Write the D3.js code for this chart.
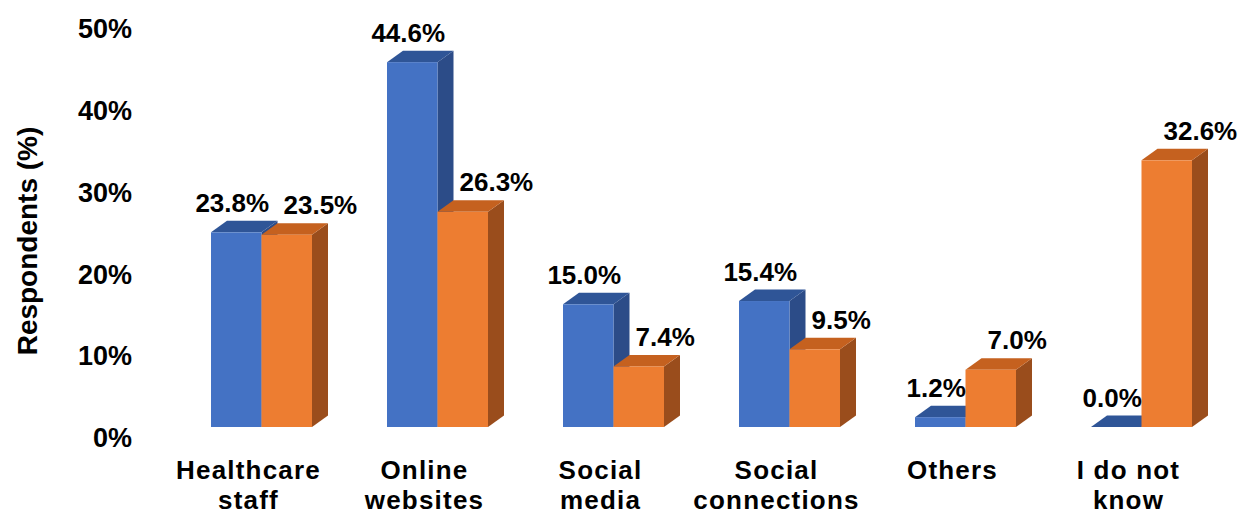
<!DOCTYPE html>
<html>
<head>
<meta charset="utf-8">
<script src="https://cdn.jsdelivr.net/npm/d3@7"></script>
<style>
  body { margin: 0; background: #fff; }
  svg { display: block; font-family: "Liberation Sans", Arial, sans-serif; font-weight: bold; }
</style>
</head>
<body>
<div id="chart"></div>
<script>
// data
const categories = [["Healthcare", "staff"], ["Online", "websites"], ["Social", "media"],
                    ["Social", "connections"], ["Others"], ["I do not", "know"]];
const series = ["A", "B"];
const seriesA = [23.8, 44.6, 15.0, 15.4, 1.2, 0.0];
const seriesB = [23.5, 26.3, 7.4, 9.5, 7.0, 32.6];
const yTicks = [0, 10, 20, 30, 40, 50];

const width = 1251, height = 516;
const depthX = 16, depthY = 11.5;

const colors = {
  A: { front: "#4472C4", top: "#2F5597", side: "#2C4C88" },
  B: { front: "#ED7D31", top: "#C5611F", side: "#9A4D1C" }
};

const keys = categories.map((c, i) => i);

const x0 = d3.scaleBand().domain(keys).range([173.5, 1229.5]);
const x1 = d3.scaleBand().domain(series).range([37.5, 138.5]);
const y = d3.scaleLinear().domain([0, 50]).range([427, 18]);

const svg = d3.select("#chart").append("svg")
  .attr("width", width)
  .attr("height", height);

// y axis labels
const yAxis = svg.append("g")
  .attr("transform", "translate(140,11)")
  .call(d3.axisLeft(y).tickValues(yTicks).tickSize(0).tickPadding(8).tickFormat(d => d + "%"));
yAxis.select(".domain").remove();
yAxis.selectAll("text")
  .attr("fill", "#000")
  .style("font-family", "\"Liberation Sans\", Arial, sans-serif")
  .style("font-weight", "bold")
  .style("font-size", "27px");

svg.append("text")
  .attr("transform", "translate(37,241) rotate(-90)")
  .attr("text-anchor", "middle")
  .style("font-size", "28px")
  .text("Respondents (%)");

// 3d bars
const rows = [];
keys.forEach(i => {
  rows.push({ i, s: "A", v: seriesA[i] });
  rows.push({ i, s: "B", v: seriesB[i] });
});

const bw = x1.bandwidth();
const bars = svg.append("g").selectAll("g")
  .data(rows)
  .join("g");

bars.each(function(d) {
  const g = d3.select(this);
  const left = x0(d.i) + x1(d.s);
  const right = left + bw;
  const top = y(d.v), base = y(0);
  const c = colors[d.s];
  // side face
  g.append("path")
    .attr("d", `M${right},${top}L${right + depthX},${top - depthY}L${right + depthX},${base - depthY}L${right},${base}Z`)
    .attr("fill", c.side);
  // top face
  g.append("path")
    .attr("d", `M${left},${top}L${left + depthX},${top - depthY}L${right + depthX},${top - depthY}L${right},${top}Z`)
    .attr("fill", c.top);
  // front face
  g.append("rect")
    .attr("x", left)
    .attr("y", top)
    .attr("width", bw)
    .attr("height", base - top)
    .attr("fill", c.front);
});

// value labels
svg.append("g").selectAll("text")
  .data(rows)
  .join("text")
  .attr("x", d => d.s === "A" ? x0(d.i) + x1(d.s) + bw / 2 - 4 : x0(d.i) + x1(d.s) + 22)
  .attr("y", d => y(d.v) - depthY - 9)
  .attr("text-anchor", d => d.s === "A" ? "middle" : "start")
  .style("font-size", "26px")
  .text(d => d.v.toFixed(1) + "%");

// category labels
const cat = svg.append("g").selectAll("text")
  .data(keys)
  .join("text")
  .attr("x", i => x0(i) + x0.bandwidth() / 2 - 13)
  .attr("y", 479)
  .attr("text-anchor", "middle")
  .style("font-size", "26px")
  .style("letter-spacing", "1.2px");

cat.selectAll("tspan")
  .data(i => categories[i].map(t => ({ t, i })))
  .join("tspan")
  .attr("x", d => x0(d.i) + x0.bandwidth() / 2 - 13)
  .attr("dy", (d, j) => j === 0 ? 0 : 30)
  .text(d => d.t);
</script>
</body>
</html>
